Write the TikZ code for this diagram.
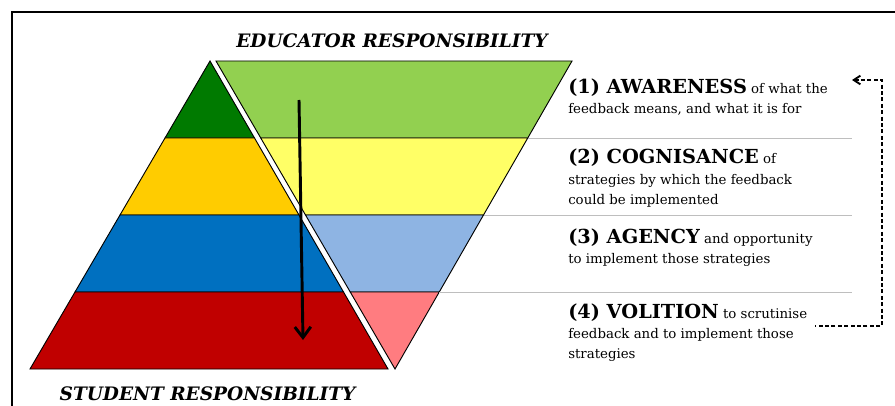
\documentclass[tikz,border=0pt]{standalone}
\usepackage{fontspec}
\setmainfont{DejaVu Serif}
\usetikzlibrary{calc,arrows.meta}

\definecolor{pyrA}{RGB}{0,122,0}
\definecolor{pyrB}{RGB}{255,204,0}
\definecolor{pyrC}{RGB}{0,112,192}
\definecolor{pyrD}{RGB}{192,0,0}
\definecolor{invA}{RGB}{146,208,80}
\definecolor{invB}{RGB}{255,255,102}
\definecolor{invC}{RGB}{142,180,227}
\definecolor{invD}{RGB}{255,124,128}
\definecolor{rulegrey}{RGB}{190,190,190}

\newcommand\stagename[1]{{\fontsize{14.5}{14.5}\selectfont\bfseries #1}}

\tikzset{
  band/.style={draw=black,line width=0.7pt,line join=miter},
  heading/.style={font=\fontsize{13.9}{13.9}\selectfont\bfseries\itshape,inner sep=0pt},
  stage/.style={font=\fontsize{10}{15}\selectfont,align=left,inner sep=0pt,anchor=base west},
  stagerule/.style={draw=rulegrey,line width=0.6pt},
  downarrow/.style={-{Straight Barb[length=8pt,width=12pt]},line width=2.2pt},
  feedbackloop/.style={{Straight Barb[length=5pt,width=6.5pt]}-,dash pattern=on 3pt off 1.8pt,line width=1.4pt}
}

\begin{document}
\begin{tikzpicture}[x=0.75pt,y=0.75pt,yscale=-1,xscale=1]
\useasboundingbox (0,0) rectangle (895,406);

%Frame
\draw [line width=1pt] (12,406) -- (12,12) -- (895,12) ;

%Corners of the two triangles
\coordinate (apex) at (210,61);
\coordinate (baseL) at (30,369);
\coordinate (baseR) at (388,369);
\coordinate (topL) at (216,61);
\coordinate (topR) at (572,61);
\coordinate (tip) at (395,369);
\coordinate (rulend) at (852,0);

%Coloured bands
\foreach \i/\pc/\ic in {0/pyrA/invA,1/pyrB/invB,2/pyrC/invC,3/pyrD/invD} {
  \pgfmathsetmacro\fa{\i/4}
  \pgfmathsetmacro\fb{(\i+1)/4}
  \draw [band,fill=\pc] ($(apex)!\fa!(baseL)$) -- ($(apex)!\fb!(baseL)$) -- ($(apex)!\fb!(baseR)$) -- ($(apex)!\fa!(baseR)$) -- cycle ;
  \draw [band,fill=\ic] ($(topL)!\fa!(tip)$) -- ($(topL)!\fb!(tip)$) -- ($(topR)!\fb!(tip)$) -- ($(topR)!\fa!(tip)$) -- cycle ;
}

%Grey rules between the stages
\foreach \f [count=\k] in {0.25,0.5,0.75} {
  \coordinate (r\k) at ($(topR)!\f!(tip)$);
  \draw [stagerule] (r\k) -- (r\k -| rulend) ;
}

%Arrow down the pyramid
\coordinate (arrtop) at (299,100);
\coordinate (arrbot) at (303,340);
\draw [downarrow] (arrtop) -- (arrbot) ;

% Text Node
\node [heading,anchor=base] (educator) at (392,48) {EDUCATOR RESPONSIBILITY};
% Text Node
\node [heading,anchor=base] (student) at (207.5,400) {STUDENT RESPONSIBILITY};

% Text Node (placed at the baseline of the last line)
\node [stage] (aware) at (568,114) {\stagename{(1) AWARENESS} of what the\\feedback means, and what it is for};
% Text Node
\node [stage] (cogn) at (568,204) {\stagename{(2) COGNISANCE} of\\strategies by which the feedback\\could be implemented};
% Text Node
\node [stage] (agency) at (568,263) {\stagename{(3) AGENCY} and opportunity\\to implement those strategies};
% Text Node
\node [stage] (volition) at (568,358) {\stagename{(4) VOLITION} to scrutinise\\feedback and to implement those\\strategies};

%Dashed feedback loop
\coordinate (loopout) at (815,326);
\coordinate (loopin) at (852,80);
\draw [feedbackloop] (loopin) -| ++(30,246) -- (loopout) ;

\end{tikzpicture}
\end{document}
